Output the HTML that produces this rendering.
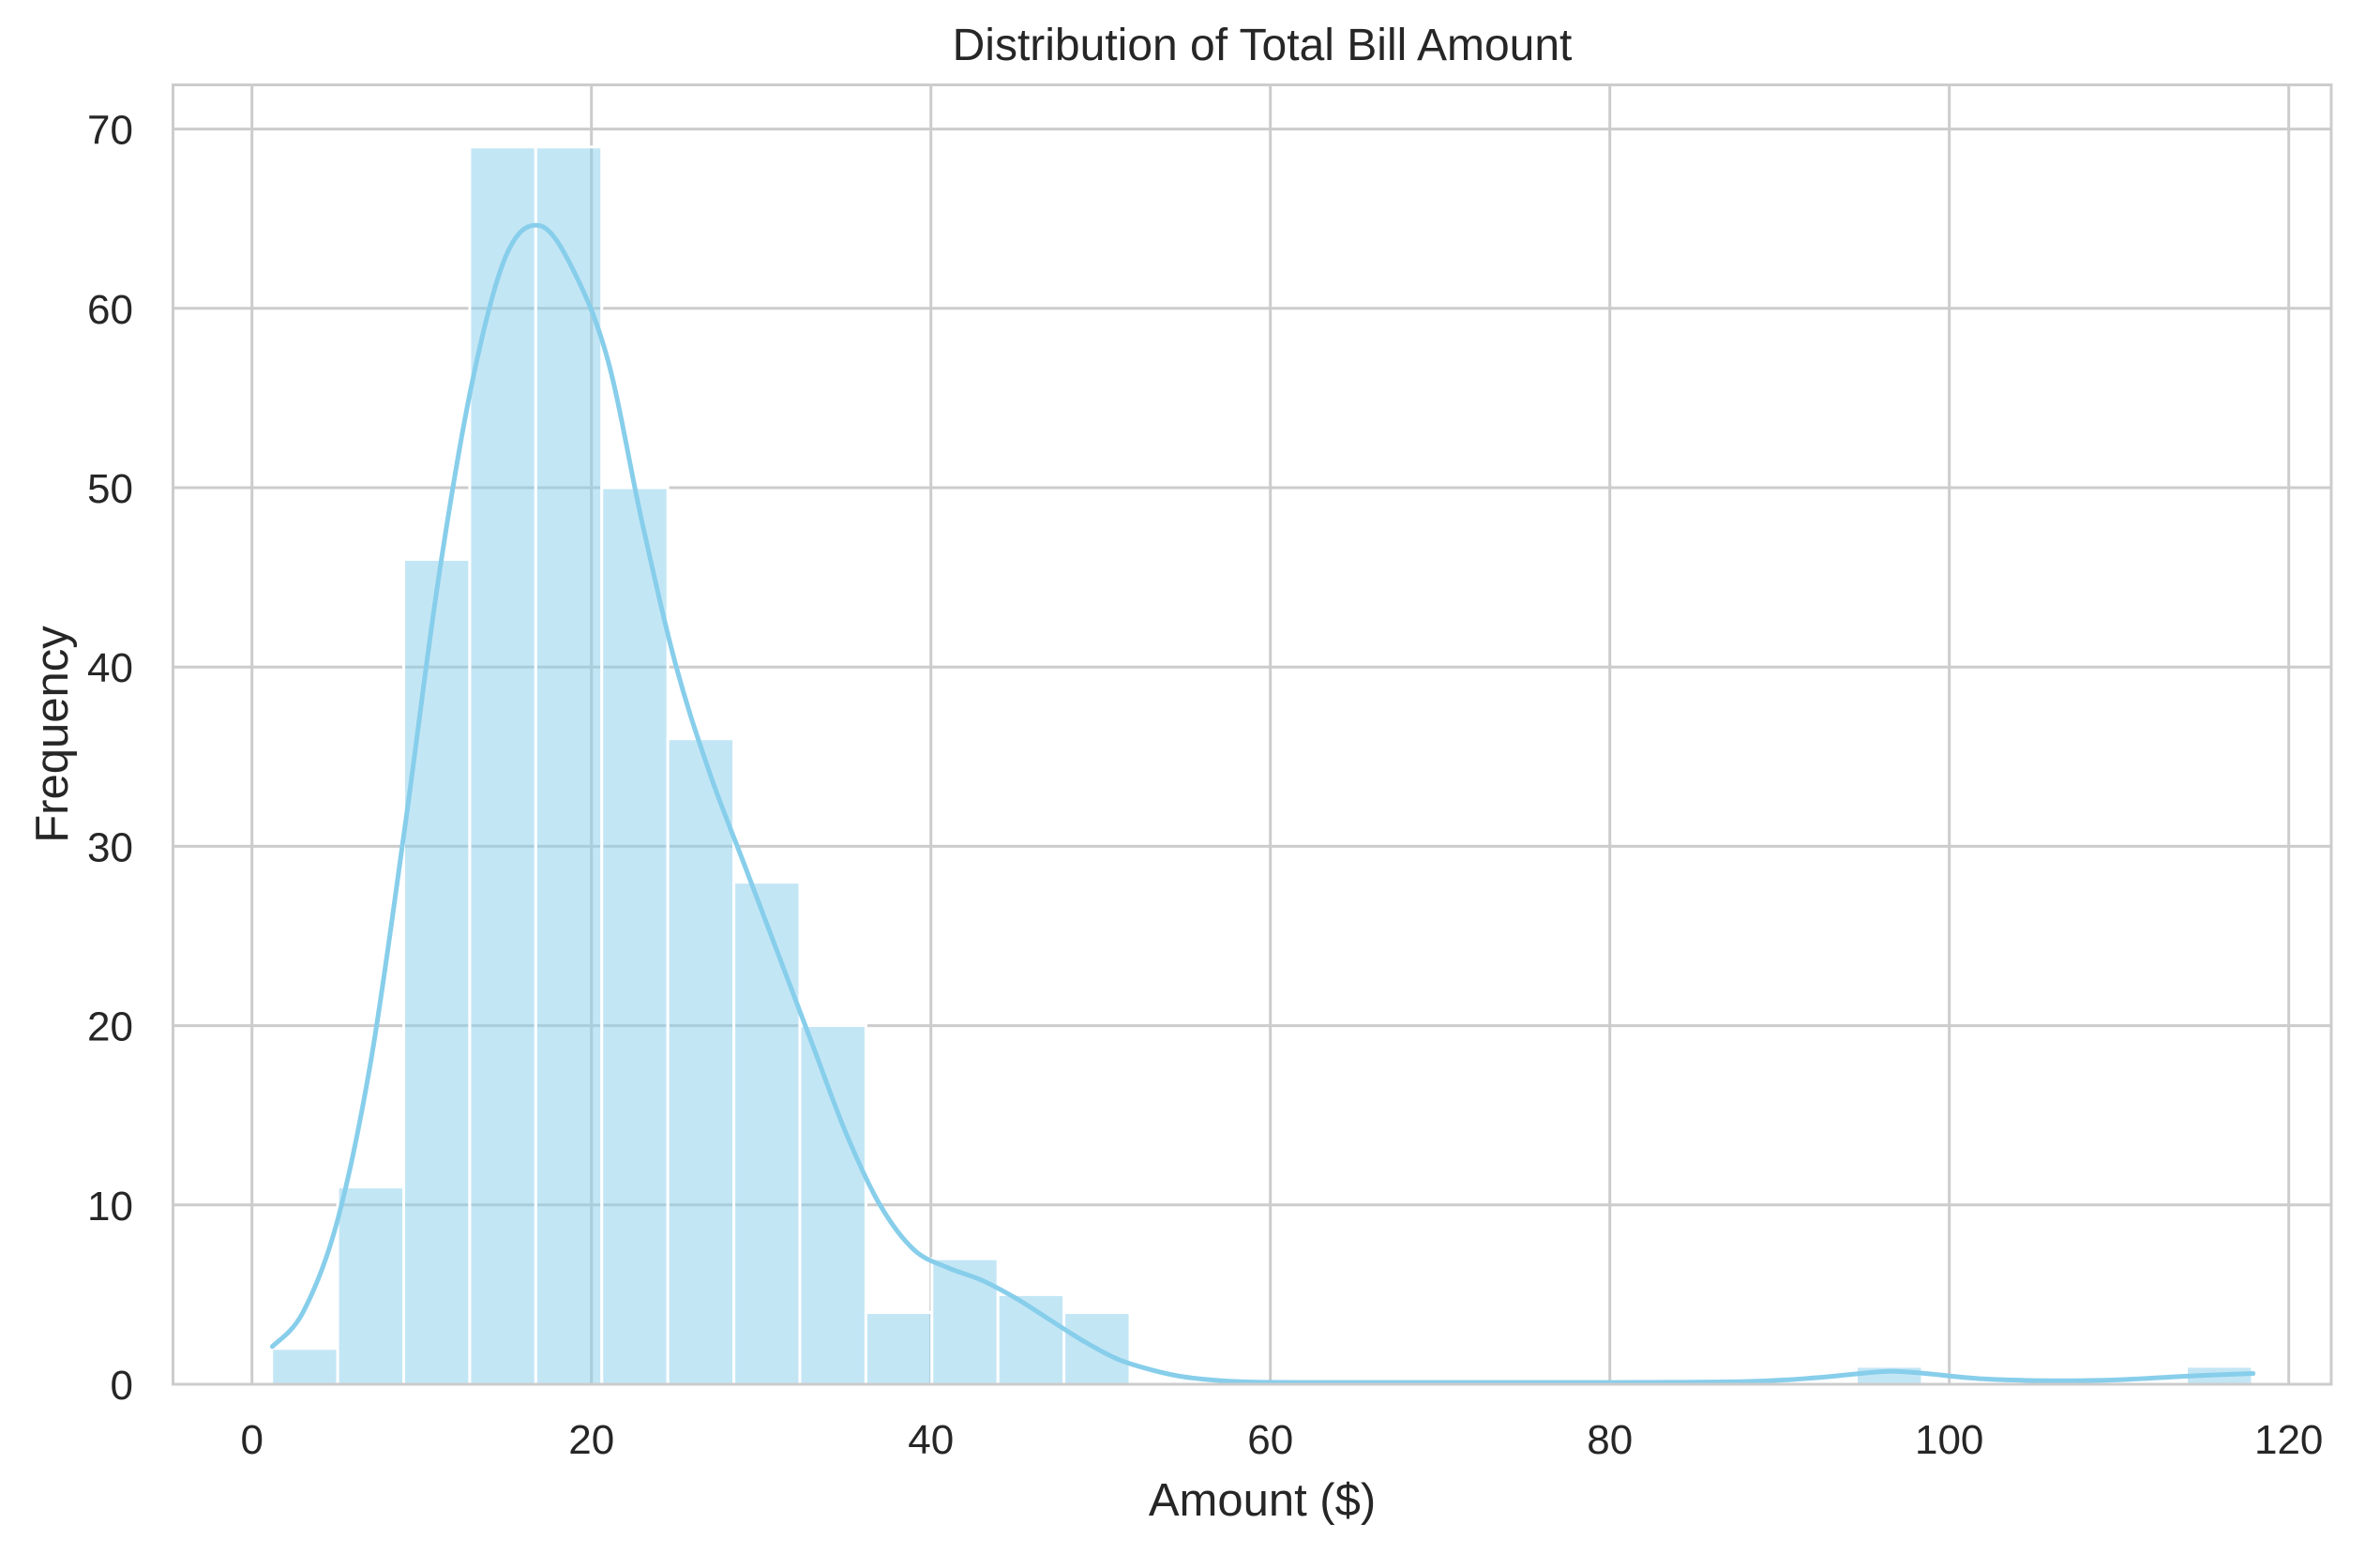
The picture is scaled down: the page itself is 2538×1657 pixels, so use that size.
<!DOCTYPE html>
<html><head><meta charset="utf-8"><style>
html,body{margin:0;padding:0;background:#fff;}
svg{display:block;font-family:"Liberation Sans",Arial,sans-serif;}
</style></head><body>
<svg id="chart" width="2538" height="1657" viewBox="0 0 2538 1657" xmlns="http://www.w3.org/2000/svg">
<rect width="2538" height="1657" fill="#fff"/>
<g id="grid"></g>
<g id="bars"></g>
<g id="kde"></g>
<rect x="184.5" y="90.5" width="2301.5" height="1385.5" fill="none" stroke="#cccccc" stroke-width="3"/>
<g id="ticks" font-size="44" fill="#262626"></g>
<text x="1346" y="64" font-size="48" text-anchor="middle" fill="#262626">Distribution of Total Bill Amount</text>
<text x="1346" y="1616" font-size="49" text-anchor="middle" fill="#262626">Amount ($)</text>
<text transform="translate(72,783) rotate(-90)" font-size="49" text-anchor="middle" fill="#262626">Frequency</text>
</svg>
<script>
const binStart = 1.16;
const binWidth = 3.89;
const counts = [2,11,46,69,69,50,36,28,20,4,7,5,4,0,0,0,0,0,0,0,0,0,0,0,1,0,0,0,0,1];
const xTicks = [0,20,40,60,80,100,120];
const yTicks = [0,10,20,30,40,50,60,70];
const kdeX = [1.2,3,5,7,9,11,13,15,17,19,21,23,25,27,29,31,33,35,37,39,41,43,45,47,49,51,53,55,58,62,70,80,88,92,96,98,102,106,110,114,117.9];
const kdeY = [2.1,4,9,18,31,45,56,63,64.6,62,57,48,40,34,29,24,19,14,10,7.5,6.5,5.8,4.8,3.6,2.4,1.4,0.8,0.4,0.15,0.1,0.1,0.1,0.15,0.35,0.7,0.65,0.3,0.2,0.25,0.45,0.6];

const NS = "http://www.w3.org/2000/svg";
const X = v => 268.7 + v * 18.10;
const Y = v => 1476 - v * 19.12;
function mk(tag, attrs, parent){const e=document.createElementNS(NS,tag);for(const k in attrs)e.setAttribute(k,attrs[k]);parent.appendChild(e);return e;}
const grid=document.getElementById('grid'), bars=document.getElementById('bars'), kde=document.getElementById('kde'), ticks=document.getElementById('ticks');

xTicks.forEach(t=>{
  const l=mk('line',{x1:X(t),x2:X(t),y1:90,y2:1476,stroke:'#cccccc','stroke-width':3},grid);
  
  
  const s=mk('text',{x:X(t),y:1550,'text-anchor':'middle'},ticks);
  s.textContent=t;
  
  
});
yTicks.forEach(t=>{
  const l=mk('line',{x1:184,x2:2486,y1:Y(t),y2:Y(t),stroke:'#cccccc','stroke-width':3},grid);
  
  
  const s=mk('text',{x:142,y:Y(t)+16,'text-anchor':'end'},ticks);
  s.textContent=t;
  
  
});
counts.forEach((c,i)=>{
  if(c<=0)return;
  const x0=X(binStart+i*binWidth), x1=X(binStart+(i+1)*binWidth);
  const r=mk('rect',{x:x0,y:Y(c),width:x1-x0,height:Y(0)-Y(c),fill:'#87ceeb','fill-opacity':0.5,stroke:'#ffffff','stroke-width':3},bars);
  
  
});
const pts=kdeX.map((x,i)=>[X(x),Y(kdeY[i])]);
let d='M'+pts[0][0].toFixed(1)+','+pts[0][1].toFixed(1);
for(let i=0;i<pts.length-1;i++){
  const p0=pts[Math.max(0,i-1)],p1=pts[i],p2=pts[i+1],p3=pts[Math.min(pts.length-1,i+2)];
  const c1=[p1[0]+(p2[0]-p0[0])/6,p1[1]+(p2[1]-p0[1])/6];
  const c2=[p2[0]-(p3[0]-p1[0])/6,p2[1]-(p3[1]-p1[1])/6];
  d+='C'+c1[0].toFixed(1)+','+c1[1].toFixed(1)+' '+c2[0].toFixed(1)+','+c2[1].toFixed(1)+' '+p2[0].toFixed(1)+','+p2[1].toFixed(1);
}
const p=mk('path',{d:d,fill:'none',stroke:'#87ceeb','stroke-width':5,'stroke-linejoin':'round','stroke-linecap':'round'},kde);


</script>
</body></html>
